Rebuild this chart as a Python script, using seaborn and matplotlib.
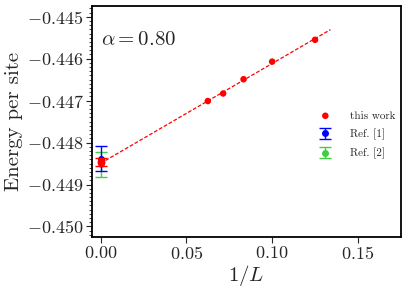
import numpy as np
import pandas as pd
import seaborn as sns
import matplotlib
matplotlib.use("Agg")
import matplotlib.pyplot as plt
from matplotlib.ticker import MultipleLocator, FuncFormatter

# data
inv_L = [0.125, 0.1, 1 / 12, 1 / 14, 1 / 16]
energy = [-0.44555, -0.44607, -0.44649, -0.44683, -0.44701]

# extrapolated value and references at 1/L = 0
this_x0, this_e0, this_err0 = 0.0, -0.44847, 0.0001
ref1_e, ref1_err = -0.44838, 0.0003
ref2_e, ref2_err = -0.44852, 0.0003

sns.set_style("ticks")
plt.rcParams["font.family"] = ["cmr10", "DejaVu Serif"]
plt.rcParams["mathtext.fontset"] = "cm"
plt.rcParams["axes.formatter.use_mathtext"] = True

df = pd.DataFrame({"inv_L": inv_L, "energy": energy})

# linear fit to extrapolate
coef = np.polyfit(df["inv_L"], df["energy"], 1)
fit_x = np.linspace(0, 0.134, 50)
fit_df = pd.DataFrame({"x": fit_x, "y": np.polyval(coef, fit_x)})

fig, ax = plt.subplots(figsize=(4.09, 2.92), dpi=100)

ax.errorbar([0.0], [ref2_e], yerr=[ref2_err], fmt="o", color="#44cc44",
            ms=4, capsize=4, elinewidth=1, label="Ref. [2]", zorder=2)
ax.errorbar([0.0], [ref1_e], yerr=[ref1_err], fmt="o", color="blue",
            ms=4, capsize=4, elinewidth=1, label="Ref. [1]", zorder=3)
sns.lineplot(data=fit_df, x="x", y="y", ax=ax, color="red", lw=0.9,
             linestyle=(0, (3, 1.5)), zorder=3)
ax.errorbar([this_x0], [this_e0], yerr=[this_err0], fmt="none",
            ecolor="red", capsize=4, elinewidth=1, zorder=4)
sns.scatterplot(data=df, x="inv_L", y="energy", ax=ax, color="red", s=22,
                edgecolor="none", label="this work", zorder=5)
ax.scatter([this_x0], [this_e0], color="red", s=22, zorder=5)

ax.set_xlim(-0.005, 0.175)
ax.set_ylim(-0.45024, -0.44474)
ax.xaxis.set_major_locator(MultipleLocator(0.05))
ax.yaxis.set_major_locator(MultipleLocator(0.001))
ax.yaxis.set_minor_locator(MultipleLocator(0.0001))
ax.xaxis.set_major_formatter(FuncFormatter(lambda v, p: f"${v:.2f}$"))
ax.yaxis.set_major_formatter(FuncFormatter(lambda v, p: f"${v:.3f}$"))
ax.tick_params(axis="both", which="major", labelsize=13, length=4, width=0.8, pad=2)
ax.tick_params(axis="y", which="minor", length=2, width=0.6)
for s in ax.spines.values():
    s.set_linewidth(1.3)
    s.set_color("black")

ax.set_xlabel(r"$1/L$", fontsize=15, labelpad=1)
ax.set_ylabel("Energy per site", fontsize=15, labelpad=3)
ax.text(0.03, 0.83, r"$\alpha = 0.80$", transform=ax.transAxes, fontsize=15)

handles, labels = ax.get_legend_handles_labels()
order = [labels.index(l) for l in ["this work", "Ref. [1]", "Ref. [2]"]]
ax.legend([handles[i] for i in order], [labels[i] for i in order],
          loc="center right", bbox_to_anchor=(1.0, 0.44), frameon=False,
          fontsize=8, handletextpad=1.2, borderaxespad=0.1, labelspacing=0.7)

fig.subplots_adjust(left=0.225, right=0.98, top=0.98, bottom=0.19)
fig.savefig("out.png", dpi=100)
